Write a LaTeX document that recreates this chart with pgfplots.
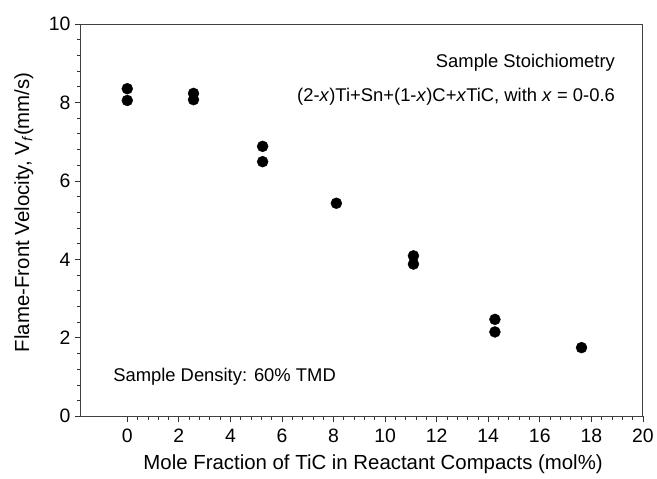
\documentclass[border=0pt]{standalone}
\usepackage{pgfplots}
\pgfplotsset{compat=1.18}
\usepackage{fontspec}
\setmainfont{Liberation Sans}
\begin{document}
\begin{tikzpicture}
\begin{axis}[
  name=ax,
  scale only axis,
  width=563bp, height=393bp,
  xmin=-1.8, xmax=20, ymin=0, ymax=10,
  xtick={0,2,...,20}, ytick={0,2,...,10},
  minor x tick num=4, minor y tick num=4,
  tick align=outside, tick pos=left,
  major tick length=6bp, minor tick length=3.5bp,
  axis line style={black!75, line width=0.9pt},
  every tick/.style={black!80, line width=0.7pt},
  /pgf/number format/assume math mode=true,
  ticklabel style={font=\fontsize{19.5}{22}\selectfont},
  xticklabel style={yshift=-3bp},
  yticklabel style={xshift=-1bp},
  label style={font=\fontsize{20.5}{24}\selectfont},
  xlabel={Mole Fraction of TiC in Reactant Compacts (mol\%)},
  ylabel={Flame-Front Velocity, V\textsubscript{\textit{f}}(mm/s)},
  xlabel style={at={(axis description cs:0.52,0)}, anchor=north, yshift=-35bp},
  ylabel style={at={(axis description cs:0,0.52)}, anchor=south, yshift=44bp},
  clip=false,
]
\addplot[only marks, mark=*, mark size=5.5bp, black] coordinates {
  (0,8.35) (0,8.05)
  (2.57,8.23) (2.57,8.07)
  (5.25,6.88) (5.25,6.49)
  (8.11,5.43)
  (11.1,4.09) (11.1,3.88)
  (14.26,2.47) (14.26,2.15)
  (17.62,1.75)
};
\node[anchor=east, font=\fontsize{18.5}{22}\selectfont] at (axis cs:19.05,9.0) {Sample Stoichiometry};
\node[anchor=east, font=\fontsize{18.5}{22}\selectfont] at (axis cs:19.05,8.15) {(2-\textit{x})Ti+Sn+(1-\textit{x})C+\textit{x}TiC, with \textit{x} = 0-0.6};
\node[anchor=west, font=\fontsize{18.5}{22}\selectfont] at (axis cs:-0.68,1.0) {Sample Density: 60\% TMD};
\end{axis}
\path (ax.south west) +(-81bp,-62bp) (ax.north east) +(13bp,24bp);
\end{tikzpicture}
\end{document}
